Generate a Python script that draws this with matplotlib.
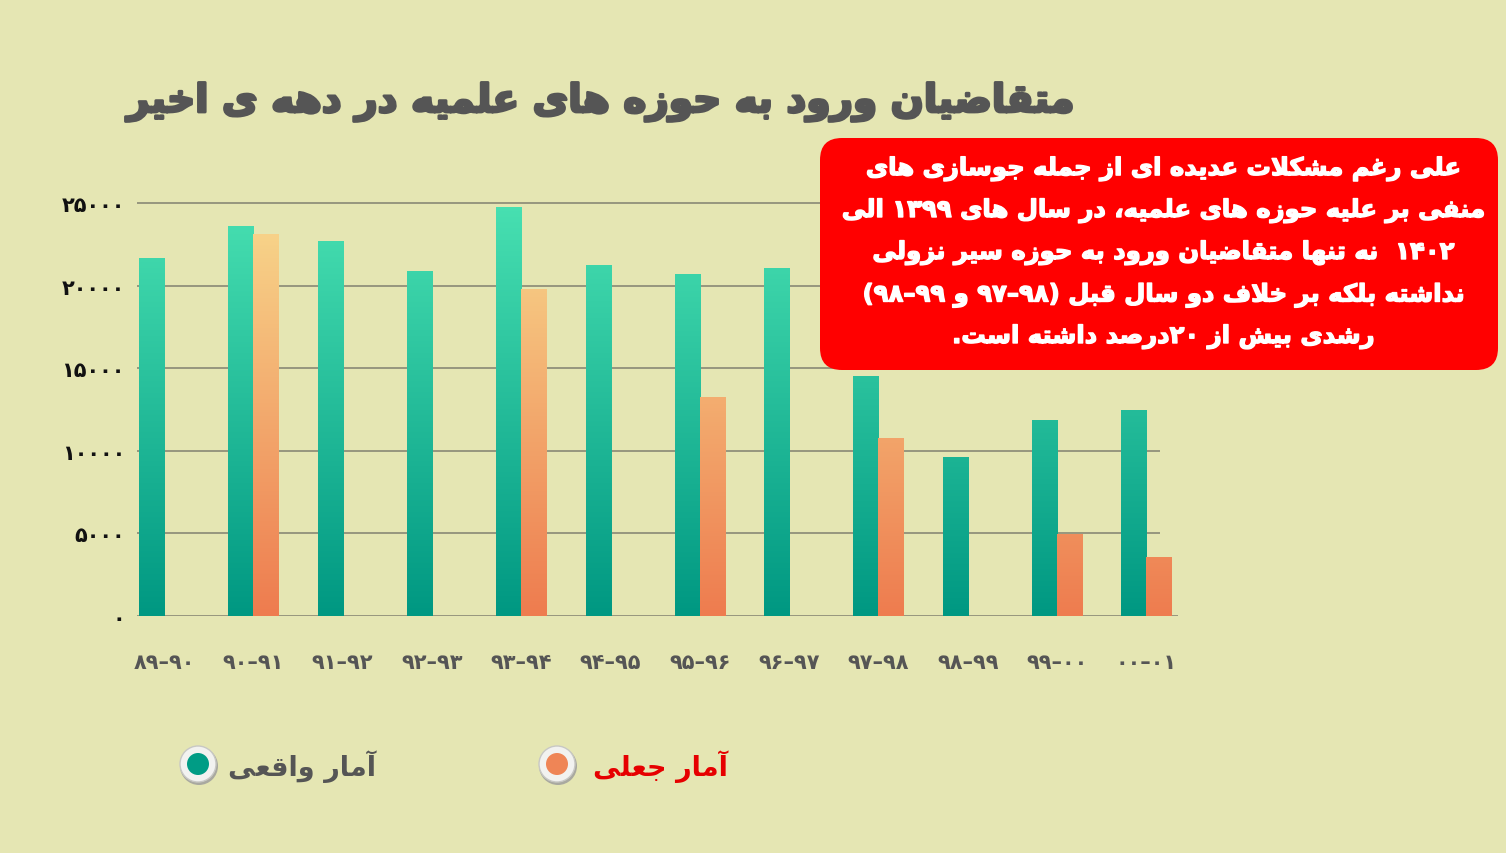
import numpy as np
import matplotlib.pyplot as plt
import matplotlib.patheffects as pe
from matplotlib.patches import FancyBboxPatch, Circle

plt.rcParams['font.family'] = ['DejaVu Sans']

# data
categories = ['۸۹–۹۰', '۹۰–۹۱', '۹۱–۹۲', '۹۲–۹۳', '۹۳–۹۴', '۹۴–۹۵',
              '۹۵–۹۶', '۹۶–۹۷', '۹۷–۹۸', '۹۸–۹۹', '۹۹–۰۰', '۰۰–۰۱']
real_counts = [21700, 23600, 22700, 20900, 24750, 21250,
               20700, 21050, 14500, 9600, 11850, 12450]
fake_counts = [np.nan, 23100, np.nan, np.nan, 19800, np.nan,
               13250, np.nan, 10750, np.nan, 4950, 3600]
y_ticks = [0, 5000, 10000, 15000, 20000, 25000]

title = 'متقاضیان ورود به حوزه های علمیه در دهه ی اخیر'
note_lines = [
    'علی رغم مشکلات عدیده ای از جمله جوسازی های',
    'منفی بر علیه حوزه های علمیه، در سال های ۱۳۹۹ الی',
    '۱۴۰۲  نه تنها متقاضیان ورود به حوزه سیر نزولی',
    'نداشته بلکه بر خلاف دو سال قبل (۹۸–۹۷ و ۹۹–۹۸)',
    'رشدی بیش از ۲۰درصد داشته است.',
]
legend_labels = ['آمار واقعی', 'آمار جعلی']

# --- tiny persian shaper (matplotlib does no arabic shaping / bidi) ---
DUAL = {'ئ': 0xFE89, 'ب': 0xFE8F, 'ت': 0xFE95, 'ث': 0xFE99, 'ج': 0xFE9D,
        'ح': 0xFEA1, 'خ': 0xFEA5, 'س': 0xFEB1, 'ش': 0xFEB5, 'ص': 0xFEB9,
        'ض': 0xFEBD, 'ط': 0xFEC1, 'ظ': 0xFEC5, 'ع': 0xFEC9, 'غ': 0xFECD,
        'ف': 0xFED1, 'ق': 0xFED5, 'ل': 0xFEDD, 'م': 0xFEE1, 'ن': 0xFEE5,
        'ه': 0xFEE9, 'ي': 0xFEF1, 'پ': 0xFB56, 'چ': 0xFB7A, 'ک': 0xFB8E,
        'گ': 0xFB92, 'ی': 0xFBFC}
RIGHT = {'آ': 0xFE81, 'ا': 0xFE8D, 'د': 0xFEA9, 'ذ': 0xFEAB, 'ر': 0xFEAD,
         'ز': 0xFEAF, 'ژ': 0xFB8A, 'و': 0xFEED, 'ة': 0xFE93}
LAM_ALEF = {'ا': 0xFEFB, 'آ': 0xFEF5}
DIGITS = set('۰۱۲۳۴۵۶۷۸۹0123456789')
fa_digits = str.maketrans('0123456789', '۰۱۲۳۴۵۶۷۸۹')


def fa(text):
    out = []
    i = 0
    n = len(text)
    while i < n:
        c = text[i]
        prev = text[i - 1] if i > 0 else ''
        nxt = text[i + 1] if i + 1 < n else ''
        linked = prev in DUAL
        if c == 'ل' and nxt in LAM_ALEF:
            out.append(chr(LAM_ALEF[nxt] + (1 if linked else 0)))
            i += 2
            continue
        if c in DUAL:
            fwd = nxt in DUAL or nxt in RIGHT
            k = {(False, False): 0, (True, False): 1,
                 (False, True): 2, (True, True): 3}[(linked, fwd)]
            out.append(chr(DUAL[c] + k))
        elif c in RIGHT:
            out.append(chr(RIGHT[c] + (1 if linked else 0)))
        else:
            out.append(c)
        i += 1
    runs = []
    for ch in out:
        if ch in DIGITS and runs and runs[-1][-1] in DIGITS:
            runs[-1] += ch
        else:
            runs.append(ch)
    runs.reverse()
    mirror = {'(': ')', ')': '('}
    return ''.join(mirror.get(r, r) for r in runs)


bg = '#e5e6b3'
W, H = 1506, 854
fig = plt.figure(figsize=(W / 100, H / 100), dpi=100, facecolor=bg)

# bar axes placed in pixel terms
x0_px, x1_px = 119.35, 1191.0
y0_px, y1_px = 617.0, 187.5
ax = fig.add_axes([x0_px / W, 1 - y0_px / H, (x1_px - x0_px) / W, (y0_px - y1_px) / H])
ax.set_facecolor('none')

x = np.arange(len(categories))
w = 0.28
real = np.array(real_counts, dtype=float)
fake = np.array(fake_counts, dtype=float)
has_fake = ~np.isnan(fake)

green_bars = ax.bar(x - w / 2, real, w, color='none', linewidth=0, zorder=3)
orange_bars = ax.bar(x[has_fake] + w / 2, fake[has_fake], w, color='none', linewidth=0, zorder=3)


def shade(bars, c_low, c_high, top):
    c_low = np.array(plt.matplotlib.colors.to_rgb(c_low))
    c_high = np.array(plt.matplotlib.colors.to_rgb(c_high))
    for b in bars:
        h = b.get_height()
        t = np.linspace(0, h / top, 80)[:, None, None]
        img = (1 - t) * c_low + t * c_high
        bx = b.get_x()
        im = ax.imshow(img, extent=(bx, bx + b.get_width(), 0, h), origin='lower',
                       aspect='auto', zorder=3, interpolation='bilinear')
        im.set_clip_path(b)


shade(green_bars, '#009882', '#48e0b1', 25000)
shade(orange_bars, '#ee7c4f', '#f8d98d', 25000)

# gridlines
ax.hlines(y_ticks[1:], -0.3, 11.15, color='#96967e', lw=1.4, zorder=1)
ax.hlines([0], -0.3, 11.35, color='#96967e', lw=1.4, zorder=1)

ax.set_xlim(-0.5, 11.5)
ax.set_ylim(0, 26000)
for s in ax.spines.values():
    s.set_visible(False)
ax.set_yticks(y_ticks)
ax.set_yticklabels([str(v).translate(fa_digits) for v in y_ticks],
                   fontsize=15, fontweight='bold', color='#111111')
ax.set_xticks(x)
ax.set_xticklabels(categories, fontsize=15, fontweight='bold', color='#555555')
ax.tick_params(axis='y', length=0, pad=-4)
ax.tick_params(axis='x', length=0, pad=26)

# overlay in pixel coords
ov = fig.add_axes([0, 0, 1, 1])
ov.set_xlim(0, W)
ov.set_ylim(H, 0)
ov.axis('off')
ov.patch.set_visible(False)

ov.text(601, 103, fa(title), ha='center', va='center', fontsize=28,
        fontweight='bold', color='#555555',
        path_effects=[pe.withStroke(linewidth=2, foreground='#555555')])

box = FancyBboxPatch((820, 139), 678, 232, boxstyle='round,pad=0,rounding_size=22',
                     facecolor='#ff0000', edgecolor='none')
ov.add_patch(box)
for k, line in enumerate(note_lines):
    ov.text(1163, 170 + 42 * k, fa(line), ha='center', va='center', fontsize=17.5,
            fontweight='bold', color='white',
            path_effects=[pe.withStroke(linewidth=1, foreground='white')])

# legend
for cx, col, label, tcol, tx in [(198, '#009c85', legend_labels[0], '#555555', 376),
                                 (557, '#ef8556', legend_labels[1], '#e60000', 728)]:
    ov.add_patch(Circle((cx + 1, 767), 19, facecolor='#a9a9a0', edgecolor='none'))
    ov.add_patch(Circle((cx, 765), 18, facecolor='#f2f2f0', edgecolor='#c8c8c4', lw=1))
    ov.add_patch(Circle((cx, 765), 11, facecolor=col, edgecolor='none'))
    ov.text(tx, 767, fa(label), ha='right', va='center', fontsize=19.5,
            fontweight='bold', color=tcol)

fig.savefig('out.png', dpi=100, facecolor=bg)
